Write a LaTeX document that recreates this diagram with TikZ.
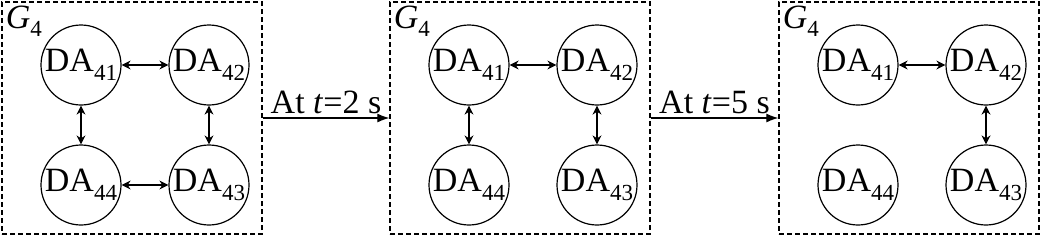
\documentclass[tikz,border=0pt]{standalone}
\usepackage{fontspec}
\setmainfont{Liberation Serif}
\usetikzlibrary{arrows.meta}

\newcommand{\dalabel}[1]{DA\raisebox{-0.28em}{\fontsize{23}{23}\selectfont #1}}
\newcommand{\glabel}{\textit{G}\raisebox{-0.25em}{\fontsize{23}{23}\selectfont 4}}

\begin{document}
\begin{tikzpicture}[x=1pt, y=-1pt, thick, >={Latex[length=12pt,width=9pt]},
    agent/.style={draw, circle, line width=1.2pt, minimum size=80pt, inner sep=0pt, font=\fontsize{34}{36}\selectfont},
    group/.style={draw, dash pattern=on 5pt off 3pt, line width=1.3pt, minimum width=260pt, minimum height=232pt, inner sep=0pt},
    link/.style={{Stealth[length=9pt,width=9pt]}-{Stealth[length=9pt,width=9pt]}, line width=1.5pt}]
        \useasboundingbox (0,0) rectangle (1041,236);

        % groups
        \node[group] (g1) at (132,118) {};
        \node[group] (g2) at (520,118) {};
        \node[group] (g3) at (909,118) {};

        \node[anchor=north west, inner sep=4pt, font=\fontsize{34}{36}\selectfont] (t1) at (g1.north west) {\glabel};
        \node[anchor=north west, inner sep=4pt, font=\fontsize{34}{36}\selectfont] (t2) at (g2.north west) {\glabel};
        \node[anchor=north west, inner sep=4pt, font=\fontsize{34}{36}\selectfont] (t3) at (g3.north west) {\glabel};

        % first graph
        \node[agent] (a41) at (81,65) {\dalabel{41}};
        \node[agent] (a42) at (209,65) {\dalabel{42}};
        \node[agent] (a43) at (209,185) {\dalabel{43}};
        \node[agent] (a44) at (81,185) {\dalabel{44}};

        \draw[link] (a41) -- (a42);
        \draw[link] (a42) -- (a43);
        \draw[link] (a43) -- (a44);
        \draw[link] (a44) -- (a41);

        % after t=2 s
        \node[agent] (b41) at (469,65) {\dalabel{41}};
        \node[agent] (b42) at (597,65) {\dalabel{42}};
        \node[agent] (b43) at (597,185) {\dalabel{43}};
        \node[agent] (b44) at (469,185) {\dalabel{44}};

        \draw[link] (b41) -- (b42);
        \draw[link] (b42) -- (b43);
        \draw[link] (b44) -- (b41);

        % after t=5 s
        \node[agent] (c41) at (858,65) {\dalabel{41}};
        \node[agent] (c42) at (986,65) {\dalabel{42}};
        \node[agent] (c43) at (986,185) {\dalabel{43}};
        \node[agent] (c44) at (858,185) {\dalabel{44}};

        \draw[link] (c41) -- (c42);
        \draw[link] (c42) -- (c43);

        % switching events
        \draw[->, line width=1.2pt] (g1.east) -- node[above, font=\fontsize{34}{36}\selectfont] {At \textit{t}=2 s} (g2.west);
        \draw[->, line width=1.2pt] (g2.east) -- node[above, font=\fontsize{34}{36}\selectfont] {At \textit{t}=5 s} (g3.west);
    \end{tikzpicture}
\end{document}
